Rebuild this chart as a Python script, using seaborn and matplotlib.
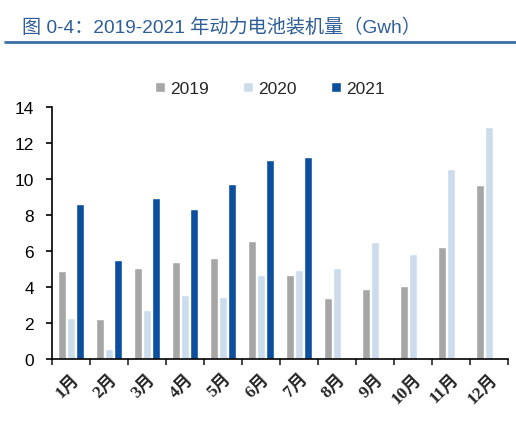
import numpy as np
import pandas as pd
import matplotlib
matplotlib.use('Agg')
import matplotlib.pyplot as plt
import seaborn as sns

months = ['1月', '2月', '3月', '4月', '5月', '6月', '7月', '8月', '9月', '10月', '11月', '12月']
v2019 = [4.9, 2.2, 5.05, 5.37, 5.63, 6.57, 4.65, 3.4, 3.9, 4.04, 6.24, 9.65]
v2020 = [2.28, 0.55, 2.72, 3.54, 3.44, 4.65, 4.94, 5.05, 6.52, 5.82, 10.56, 12.87]
v2021 = [8.6, 5.5, 8.94, 8.33, 9.7, 11.04, 11.24]
years = ['2019', '2020', '2021']
colors = ['#A6A6A6', '#CCDCEC', '#0B4F9E']

rows = []
for y, vals in zip(years, [v2019, v2020, v2021]):
    for m, v in zip(months, vals):
        rows.append({'month': m, 'year': y, 'value': v})
df = pd.DataFrame(rows)

sns.set_style('white')
plt.rcParams['font.family'] = ['Liberation Sans', 'Noto Sans CJK SC', 'DejaVu Sans']

fig = plt.figure(figsize=(5.16, 4.27), dpi=100)
ax = fig.add_axes([52 / 516, 1 - 360 / 427, (508 - 52) / 516, (360 - 108) / 427])

sns.barplot(data=df, x='month', y='value', hue='year', order=months, hue_order=years,
            palette=colors, width=0.68, gap=0.08, saturation=1, ax=ax)

ax.set_ylim(0, 14)
ax.set_xlim(-0.5, 11.5)
ax.set_yticks(range(0, 15, 2))
ax.set_xlabel('')
ax.set_ylabel('')
for s in ['top', 'right']:
    ax.spines[s].set_visible(False)
for s in ['left', 'bottom']:
    ax.spines[s].set_color('black')
    ax.spines[s].set_linewidth(1.2)

ax.tick_params(axis='y', length=4, width=1.2, direction='out', left=True, labelsize=12.5, colors='black', pad=9)
ax.set_xticks(np.arange(-0.5, 12, 1), minor=True)
ax.tick_params(axis='x', which='minor', length=4, width=1.2, direction='out', bottom=True)
ax.tick_params(axis='x', which='major', length=0, pad=8)
ax.set_xticklabels(months, rotation=45, ha='right', rotation_mode='anchor', fontsize=12.5,
                   fontweight='bold', family=['Liberation Serif', 'Noto Sans CJK SC'])

ax.legend(loc='upper center', bbox_to_anchor=(0.478, 1.165), ncol=3, frameon=False,
          fontsize=12.5, handlelength=0.55, handleheight=0.55, handletextpad=0.3, columnspacing=2.0)

fig.text(22 / 516, 1 - 28 / 427, '图 0-4：2019-2021 年动力电池装机量（Gwh）', fontsize=13.8,
         color='#2E5E97', va='center', ha='left')
fig.add_artist(plt.Line2D([5 / 516, 1], [1 - 43 / 427, 1 - 43 / 427], color='#3A6EA5', lw=2))

fig.savefig('out.png', dpi=100)
